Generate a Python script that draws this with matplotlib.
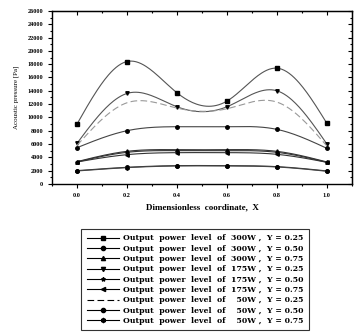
import matplotlib
matplotlib.use("Agg")
import matplotlib.pyplot as plt
import numpy as np

plt.rcParams['font.family'] = ['Liberation Serif', 'DejaVu Serif']

x_pos = [0.0, 0.2, 0.4, 0.6, 0.8, 1.0]

p300_y25 = [9000, 18400, 13700, 12450, 17400, 9100]
p300_y50 = [5450, 8000, 8600, 8600, 8200, 5350]
p300_y75 = [3350, 4900, 5150, 5150, 4900, 3300]
p175_y25 = [6100, 13600, 11600, 11600, 14000, 6000]
p175_y50 = [3300, 4750, 5000, 5000, 4750, 3250]
p175_y75 = [3300, 4400, 4700, 4700, 4450, 3250]
p50_y25 = [5800, 12200, 11400, 11300, 12300, 5700]
p50_y50 = [2000, 2500, 2750, 2750, 2600, 1950]
p50_y75 = [1950, 2450, 2700, 2700, 2550, 1900]

labels = ['Output  power  level  of  300W ,  Y = 0.25',
          'Output  power  level  of  300W ,  Y = 0.50',
          'Output  power  level  of  300W ,  Y = 0.75',
          'Output  power  level  of  175W ,  Y = 0.25',
          'Output  power  level  of  175W ,  Y = 0.50',
          'Output  power  level  of  175W ,  Y = 0.75',
          'Output  power  level  of    50W ,  Y = 0.25',
          'Output  power  level  of    50W ,  Y = 0.50',
          'Output  power  level  of    50W ,  Y = 0.75']


def spline(x, y, n=200):
    # natural cubic spline through the points
    x = np.asarray(x, float)
    y = np.asarray(y, float)
    h = np.diff(x)
    k = len(x)
    A = np.zeros((k, k))
    b = np.zeros(k)
    A[0, 0] = A[-1, -1] = 1
    for i in range(1, k - 1):
        A[i, i - 1] = h[i - 1]
        A[i, i] = 2 * (h[i - 1] + h[i])
        A[i, i + 1] = h[i]
        b[i] = 6 * ((y[i + 1] - y[i]) / h[i] - (y[i] - y[i - 1]) / h[i - 1])
    M = np.linalg.solve(A, b)
    xs = np.linspace(x[0], x[-1], n)
    idx = np.clip(np.searchsorted(x, xs) - 1, 0, k - 2)
    x0, x1 = x[idx], x[idx + 1]
    hh = x1 - x0
    t0, t1 = x1 - xs, xs - x0
    ys = (M[idx] * t0 ** 3 + M[idx + 1] * t1 ** 3) / (6 * hh) \
        + (y[idx] / hh - M[idx] * hh / 6) * t0 + (y[idx + 1] / hh - M[idx + 1] * hh / 6) * t1
    return xs, ys


fig = plt.figure(figsize=(3.54, 3.32), dpi=100)
ax = fig.add_axes([0.147, 0.446, 0.847, 0.521])

series = [p300_y25, p300_y50, p300_y75, p175_y25, p175_y50, p175_y75, p50_y25, p50_y50, p50_y75]
markers = ['s', 'o', '^', 'v', '*', '<', None, 'o', 'h']
styles = ['-', '-', '-', '-', '-', '-', (0, (6, 3)), '-', '-']
colors = ['#555555', '#444444', '#333333', '#555555', '#333333', '#333333', '#999999', '#333333', '#444444']

handles = []
for vals, mk, ls, c, lab in zip(series, markers, styles, colors, labels):
    xs, ys = spline(x_pos, vals)
    ax.plot(xs, ys, color=c, linestyle=ls, linewidth=0.8)
    if mk is not None:
        ax.plot(x_pos, vals, linestyle='none', marker=mk, color='black', markersize=2.5)
    h, = ax.plot([], [], color='black', linestyle=ls, linewidth=0.8,
                 marker=mk, markersize=3)
    handles.append(h)

ax.set_xlim(-0.1, 1.1)
ax.set_ylim(0, 26000)
ax.set_xticks(x_pos)
ax.set_xticklabels(['0.0', '0.2', '0.4', '0.6', '0.8', '1.0'])
ax.set_xticks(np.arange(-0.1, 1.11, 0.1), minor=True)
ax.set_yticks(np.arange(0, 26001, 2000))
ax.set_yticks(np.arange(0, 26001, 1000), minor=True)
ax.tick_params(axis='both', which='both', labelsize=4.5, width=0.8, direction='out')
ax.tick_params(which='major', length=3)
ax.tick_params(which='minor', length=1.5)
for lab in ax.get_xticklabels() + ax.get_yticklabels():
    lab.set_fontweight('bold')

top = ax.secondary_xaxis('top')
top.set_xticks(x_pos)
top.set_xticks(np.arange(-0.1, 1.11, 0.1), minor=True)
top.tick_params(which='both', direction='in', labeltop=False, width=0.8)
top.tick_params(which='major', length=3)
top.tick_params(which='minor', length=1.5)
right = ax.secondary_yaxis('right')
right.set_yticks(np.arange(0, 26001, 2000))
right.set_yticks(np.arange(0, 26001, 1000), minor=True)
right.tick_params(which='both', direction='in', labelright=False, width=0.8)
right.tick_params(which='major', length=3)
right.tick_params(which='minor', length=1.5)

for s in ax.spines.values():
    s.set_linewidth(1.0)

ax.set_xlabel('Dimensionless  coordinate,  X', fontsize=6.5, fontweight='bold', labelpad=4)
ax.set_ylabel('Acoustic pressure [Pa]', fontsize=5, labelpad=6)

leg = fig.legend(handles, labels, loc='lower center', bbox_to_anchor=(0.551, 0.006),
                 prop={'family': ['DejaVu Serif'], 'size': 5.6, 'weight': 'bold'},
                 frameon=True, fancybox=False, edgecolor='black',
                 handlelength=4.2, labelspacing=0.3, borderpad=0.65, handletextpad=0.5,
                 borderaxespad=0)
leg.get_frame().set_linewidth(0.8)

fig.savefig('out.png', dpi=100)
